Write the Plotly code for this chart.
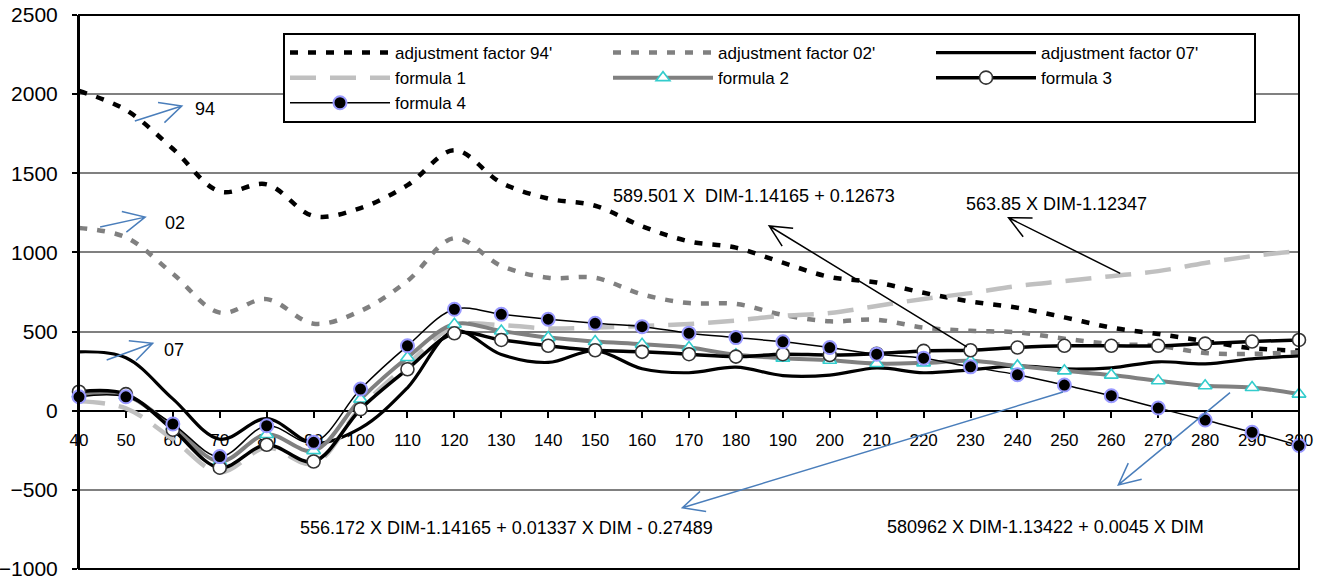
import math
import plotly.graph_objects as go

# ---------------- data ----------------
dim = [40, 50, 60, 70, 80, 90, 100, 110, 120, 130, 140, 150, 160, 170, 180,
       190, 200, 210, 220, 230, 240, 250, 260, 270, 280, 290, 300]

adj94 = [2020, 1900, 1655, 1385, 1430, 1230, 1280, 1425, 1645, 1440, 1340, 1295, 1165, 1070,
         1030, 935, 845, 810, 745, 690, 650, 590, 525, 485, 440, 395, 380]
adj02 = [1155, 1095, 865, 620, 705, 550, 630, 820, 1090, 915, 840, 840, 735, 680,
         675, 605, 565, 575, 525, 505, 495, 455, 422, 410, 365, 359, 370]
adj07 = [372, 335, 75, -180, -50, -205, -110, 145, 505, 355, 305, 380, 265, 240,
         275, 222, 225, 270, 240, 258, 283, 264, 271, 309, 296, 328, 347]
formula1 = [60, 15, -180, -390, -233, -335, 20, 290, 535, 540, 520, 525, 535, 548,
            570, 600, 617, 662, 706, 743, 788, 819, 850, 882, 933, 977, 1008]
formula2 = [105, 95, -100, -320, -150, -252, 73, 336, 546, 504, 462, 437, 420, 399,
            353, 332, 319, 298, 302, 315, 283, 252, 225, 189, 158, 147, 105]
formula3 = [120, 105, -120, -360, -215, -321, 10, 262, 489, 447, 410, 382, 372, 357,
            342, 357, 352, 360, 378, 382, 399, 410, 410, 410, 424, 437, 447]
formula4 = [88, 88, -84, -290, -95, -200, 137, 410, 641, 609, 578, 552, 531, 490,
            462, 435, 399, 357, 332, 277, 227, 162, 95, 17, -59, -136, -220]

y_ticks = [-1000, -500, 0, 500, 1000, 1500, 2000, 2500]
x_range = [40, 300]
y_range = [-1000, 2500]

# annotation labels
label_texts = ["94", "02", "07",
               "589.501 X \u00a0DIM-1.14165 + 0.12673",
               "563.85 X DIM-1.12347",
               "556.172 X DIM-1.14165 + 0.01337 X DIM - 0.27489",
               "580962 X DIM-1.13422 + 0.0045 X DIM"]

FONT = "Liberation Sans, Arial, sans-serif"

# ---------------- layout geometry ----------------
W, H = 1329, 582
ML, MR, MT, MB = 79, 30, 15, 13
PW, PH = W - ML - MR, H - MT - MB
SX = PW / (x_range[1] - x_range[0])
SY = PH / (y_range[1] - y_range[0])

fig = go.Figure()

common = dict(mode="lines", line_shape="spline", cliponaxis=False)
fig.add_trace(go.Scatter(x=dim, y=adj94, name="adjustment factor 94'",
                         line=dict(color="black", width=4.5, dash="8px,10px"), **common))
fig.add_trace(go.Scatter(x=dim, y=adj02, name="adjustment factor 02'",
                         line=dict(color="#808080", width=4.5, dash="8px,10px"), **common))
fig.add_trace(go.Scatter(x=dim, y=adj07, name="adjustment factor 07'",
                         line=dict(color="black", width=3.2), **common))
fig.add_trace(go.Scatter(x=dim, y=formula1, name="formula 1",
                         line=dict(color="#c0c0c0", width=4.5, dash="26px,14px"), **common))
fig.add_trace(go.Scatter(x=dim, y=formula2, name="formula 2", mode="lines+markers",
                         line_shape="spline", cliponaxis=False,
                         line=dict(color="#808080", width=4),
                         marker=dict(symbol="triangle-up", size=12, color="white",
                                     line=dict(color="#33cccc", width=1.6))))
fig.add_trace(go.Scatter(x=dim, y=formula3, name="formula 3", mode="lines+markers",
                         line_shape="spline", cliponaxis=False,
                         line=dict(color="black", width=3.5),
                         marker=dict(symbol="circle", size=13, color="white",
                                     line=dict(color="#333333", width=1.6))))
fig.add_trace(go.Scatter(x=dim, y=formula4, name="formula 4", mode="lines+markers",
                         line_shape="spline", cliponaxis=False,
                         line=dict(color="black", width=1.5),
                         marker=dict(symbol="circle", size=13, color="black",
                                     line=dict(color="#9999ff", width=2))))

# ---------------- arrows (as shapes) ----------------
def arrow_path(tail, head, arm=24, half_angle=26):
    xt, yt = tail
    xh, yh = head
    dx = (xt - xh) * SX
    dy = (yt - yh) * SY
    L = math.hypot(dx, dy)
    ux, uy = dx / L, dy / L
    pts = []
    for s in (1, -1):
        a = math.radians(half_angle * s)
        rx = ux * math.cos(a) - uy * math.sin(a)
        ry = ux * math.sin(a) + uy * math.cos(a)
        pts.append((xh + rx * arm / SX, yh + ry * arm / SY))
    (x1, y1), (x2, y2) = pts
    return (f"M{xt},{yt} L{xh},{yh} M{x1},{y1} L{xh},{yh} L{x2},{y2}")

BLUE = "#4a7ebb"
arrows = [
    ((51.9, 1830), (61.9, 1925), BLUE),
    ((44.5, 1160), (54.1, 1223), BLUE),
    ((45.9, 320), (55.7, 426), BLUE),
    ((229.2, 404), (187.1, 1167), "black"),
    ((261.9, 868), (238.1, 1219), "black"),
    ((249.7, 118), (168.6, -613), BLUE),
    ((285.3, 114), (261.5, -469), BLUE),
]
shapes = []
for tail, head, col in arrows:
    shapes.append(dict(type="path", xref="x", yref="y", path=arrow_path(tail, head),
                       line=dict(color=col, width=1.5), layer="above"))
# plot-area frame
shapes.append(dict(type="rect", xref="paper", yref="paper", x0=0, y0=0, x1=1, y1=1,
                   line=dict(color="black", width=2), layer="above"))

label_pos = [(64.3, 1905), (57.9, 1184), (57.7, 383), (153.4, 1356),
             (228.6, 1306), (86.7, -741), (211.8, -735)]
annotations = []
for txt, (x, y) in zip(label_texts, label_pos):
    annotations.append(dict(x=x, y=y, xref="x", yref="y", text=txt, showarrow=False,
                            xanchor="left", yanchor="middle",
                            font=dict(family=FONT, size=18, color="black")))

fig.update_layout(
    width=W, height=H, autosize=False,
    margin=dict(l=ML, r=MR, t=MT, b=MB, pad=0, autoexpand=False),
    paper_bgcolor="white", plot_bgcolor="white",
    font=dict(family=FONT, color="black"),
    shapes=shapes, annotations=annotations,
    legend=dict(orientation="h", x=(283 - ML) / PW, y=(H - MB - 33) / PH,
                xanchor="left", yanchor="top",
                bgcolor="white", bordercolor="black", borderwidth=2,
                font=dict(family=FONT, size=17, color="black"),
                itemwidth=100, entrywidth=208, entrywidthmode="pixels",
                traceorder="normal"),
    xaxis=dict(range=x_range, tickvals=dim, ticks="outside", ticklen=6, tickwidth=1.5,
               tickcolor="black", showline=True, linecolor="black", linewidth=2,
               showgrid=False, zeroline=False, anchor="free", automargin=False,
               position=(0 - y_range[0]) / (y_range[1] - y_range[0]),
               layer="below traces", ticklabelstandoff=8,
               tickfont=dict(family=FONT, size=17, color="black")),
    yaxis=dict(range=y_range, tickvals=y_ticks, ticks="outside", ticklen=5, tickwidth=1.5,
               tickcolor="black", showline=True, linecolor="black", linewidth=2,
               showgrid=True, gridcolor="#808080", gridwidth=1.5, zeroline=False,
               ticklabelstandoff=10, automargin=False,
               tickfont=dict(family=FONT, size=21, color="black")),
)

fig.write_html("out.html")
